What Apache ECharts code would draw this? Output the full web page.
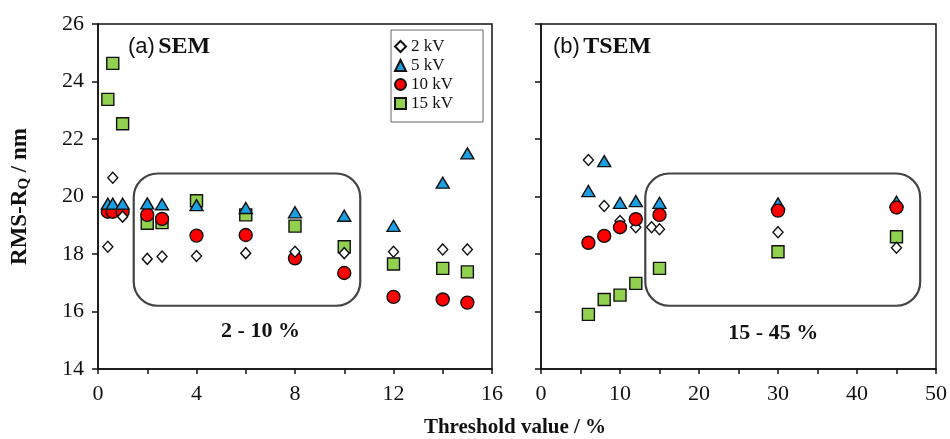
<!DOCTYPE html>
<html>
<head>
<meta charset="utf-8">
<script src="https://cdn.jsdelivr.net/npm/echarts@6/dist/echarts.min.js"></script>
<style>
  html, body { margin: 0; padding: 0; background: #fff; }
  #chart { width: 950px; height: 439px; }
</style>
</head>
<body>
<div id="chart"></div>
<script>
// (a) SEM
const semX = [0.4, 0.6, 1, 2, 2.6, 4, 6, 8, 10, 12, 14, 15];
const sem2kV = [18.25, 20.65, 19.3, 17.83, 17.91, 17.93, 18.03, 18.08, 18.03, 18.08, 18.16, 18.16];
const sem5kV = [19.75, 19.75, 19.75, 19.76, 19.73, 19.7, 19.6, 19.45, 19.33, 18.98, 20.48, 21.5];
const sem10kV = [19.47, 19.47, 19.47, 19.36, 19.22, 18.64, 18.66, 17.85, 17.34, 16.51, 16.42, 16.31];
const sem15kV = [23.38, 24.63, 22.53, 19.07, 19.09, 19.85, 19.36, 18.97, 18.25, 17.65, 17.5, 17.38];

// (b) TSEM
const tsemX = [6, 8, 10, 12, 14, 15, 30, 45];
const tsem2kV = [21.27, 19.67, 19.15, 18.93, 18.93, 18.86, 18.76, 18.22];
const tsem5kV = [20.19, 21.23, 19.78, 19.84, null, 19.78, 19.76, 19.82];
const tsem10kV = [18.39, 18.63, 18.93, 19.21, null, 19.36, 19.51, 19.62];
const tsem15kV = [15.9, 16.42, 16.57, 16.98, null, 17.5, 18.08, 18.6];

const yTicks = [14, 16, 18, 20, 22, 24, 26];
const semTicks = [0, 4, 8, 12, 16];
const tsemTicks = [0, 10, 20, 30, 40, 50];

const serif = '"Liberation Serif", "DejaVu Serif", serif';
const sans = '"Liberation Sans", Arial, sans-serif';

function pairs(xs, ys) {
  const out = [];
  xs.forEach((x, i) => { if (ys[i] != null) out.push([x, ys[i]]); });
  return out;
}

const styles = {
  '2 kV': { symbol: 'diamond', symbolSize: [10, 11], itemStyle: { color: '#fff', borderColor: '#111', borderWidth: 1.4, opacity: 1 } },
  '5 kV': { symbol: 'triangle', symbolSize: [13, 11], itemStyle: { color: '#1AA0E2', borderColor: '#111', borderWidth: 1.4, opacity: 1 } },
  '10 kV': { symbol: 'circle', symbolSize: 13, itemStyle: { color: '#FF0000', borderColor: '#111', borderWidth: 1.4, opacity: 1 } },
  '15 kV': { symbol: 'rect', symbolSize: 12, itemStyle: { color: '#92D050', borderColor: '#111', borderWidth: 1.4, opacity: 1 } }
};

function mk(name, idx, data, z) {
  return Object.assign({
    name: name, type: 'scatter', xAxisIndex: idx, yAxisIndex: idx,
    data: data, z: z, emphasis: { disabled: true }
  }, styles[name]);
}

const axisCommon = {
  axisLine: { lineStyle: { color: '#111', width: 1.5 } },
  axisTick: { inside: false, length: 6, lineStyle: { color: '#111', width: 1.5 } },
  splitLine: { show: false },
  axisLabel: { fontFamily: serif, fontSize: 22, color: '#111' }
};

const gridTop = 24, gridH = 345;

const chart = echarts.init(document.getElementById('chart'));
chart.setOption({
  backgroundColor: '#fff',
  animation: false,
  grid: [
    { left: 98, top: gridTop, width: 394, height: gridH, show: true, borderColor: '#111', borderWidth: 1.5 },
    { left: 541, top: gridTop, width: 395, height: gridH, show: true, borderColor: '#111', borderWidth: 1.5 }
  ],
  xAxis: [
    Object.assign({}, axisCommon, {
      gridIndex: 0, type: 'value', min: 0, max: 16, interval: 2,
      axisTick: Object.assign({}, axisCommon.axisTick, { length: 5 }),
      axisLabel: Object.assign({}, axisCommon.axisLabel, { margin: 14, formatter: v => semTicks.includes(v) ? String(v) : '' })
    }),
    Object.assign({}, axisCommon, {
      gridIndex: 1, type: 'value', min: 0, max: 50, interval: 5,
      axisTick: Object.assign({}, axisCommon.axisTick, { length: 5 }),
      axisLabel: Object.assign({}, axisCommon.axisLabel, { margin: 14, formatter: v => tsemTicks.includes(v) ? String(v) : '' })
    })
  ],
  yAxis: [
    Object.assign({}, axisCommon, {
      gridIndex: 0, type: 'value', min: yTicks[0], max: yTicks[yTicks.length - 1], interval: 2,
      axisLabel: Object.assign({}, axisCommon.axisLabel, { margin: 14 }),
      name: '{b|RMS-R}{s|Q}{b| / nm}', nameLocation: 'middle', nameRotate: 90, nameGap: 66,
      nameTextStyle: {
        rich: {
          b: { fontFamily: serif, fontWeight: 'bold', fontSize: 23, color: '#111' },
          s: { fontFamily: serif, fontWeight: 'bold', fontSize: 15, color: '#111', padding: [9, 0, 0, 0] }
        }
      }
    }),
    Object.assign({}, axisCommon, {
      gridIndex: 1, type: 'value', min: yTicks[0], max: yTicks[yTicks.length - 1], interval: 2,
      axisLabel: { show: false }
    })
  ],
  legend: {
    left: 391, top: 30, orient: 'vertical',
    data: ['2 kV', '5 kV', '10 kV', '15 kV'],
    itemWidth: 11, itemHeight: 11, itemGap: 2,
    padding: [8, 30, 10, 3],
    borderColor: '#666', borderWidth: 1, backgroundColor: '#fff',
    textStyle: { fontFamily: serif, fontSize: 17, lineHeight: 16, color: '#111' },
    selectedMode: false
  },
  series: [
    mk('15 kV', 0, pairs(semX, sem15kV), 2),
    mk('10 kV', 0, pairs(semX, sem10kV), 3),
    mk('2 kV', 0, pairs(semX, sem2kV), 4),
    mk('5 kV', 0, pairs(semX, sem5kV), 5),
    mk('15 kV', 1, pairs(tsemX, tsem15kV), 2),
    mk('2 kV', 1, pairs(tsemX, tsem2kV), 3),
    mk('5 kV', 1, pairs(tsemX, tsem5kV), 4),
    mk('10 kV', 1, pairs(tsemX, tsem10kV), 5)
  ]
});

// rounded boxes marking the threshold ranges, placed in data coordinates
const boxes = [
  { idx: 0, x0: 1.45, x1: 10.65, y0: 20.8, y1: 16.2, label: '2 - 10 %', lx: 6.6, ly: 15.3 },
  { idx: 1, x0: 13.2, x1: 48.0, y0: 20.8, y1: 16.2, label: '15 - 45 %', lx: 29.4, ly: 15.25 }
];
const graphics = [];
boxes.forEach(b => {
  const f = { xAxisIndex: b.idx, yAxisIndex: b.idx };
  const p0 = chart.convertToPixel(f, [b.x0, b.y0]);
  const p1 = chart.convertToPixel(f, [b.x1, b.y1]);
  const pl = chart.convertToPixel(f, [b.lx, b.ly]);
  graphics.push({
    type: 'rect', z: 1,
    shape: { x: p0[0], y: p0[1], width: p1[0] - p0[0], height: p1[1] - p0[1], r: 24 },
    style: { fill: 'none', stroke: '#444', lineWidth: 2.2 }
  });
  graphics.push({
    type: 'text', x: pl[0], y: pl[1], z: 10,
    style: { text: b.label, font: 'bold 22px ' + serif, fill: '#111', textAlign: 'center', textVerticalAlign: 'middle' }
  });
});
graphics.push({
  type: 'text', left: 128, top: 35, z: 10,
  style: {
    text: '{a|(a)} {b|SEM}',
    rich: {
      a: { fontFamily: sans, fontSize: 22, fill: '#111' },
      b: { fontFamily: serif, fontSize: 24, fontWeight: 'bold', fill: '#111' }
    }
  }
});
graphics.push({
  type: 'text', left: 553, top: 35, z: 10,
  style: {
    text: '{a|(b)} {b|TSEM}',
    rich: {
      a: { fontFamily: sans, fontSize: 22, fill: '#111' },
      b: { fontFamily: serif, fontSize: 24, fontWeight: 'bold', fill: '#111' }
    }
  }
});
graphics.push({
  type: 'text', x: 515, y: 428, z: 10,
  style: { text: 'Threshold value / %', font: 'bold 21px ' + serif, fill: '#111', textAlign: 'center', textVerticalAlign: 'middle' }
});
chart.setOption({ graphic: graphics });
</script>
</body>
</html>
